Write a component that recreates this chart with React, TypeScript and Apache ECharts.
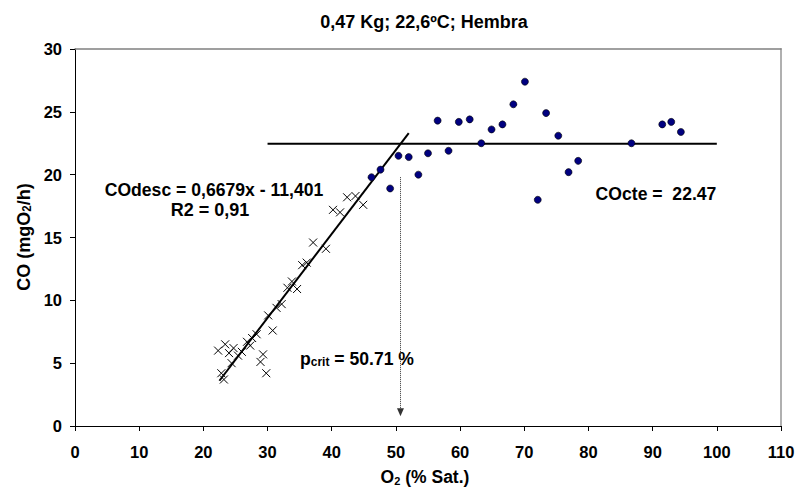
import React, { useEffect, useRef } from "react";
import * as echarts from "echarts";

// Descending phase (crosses): [O2 % sat, CO mgO2/h]
const descPoints: number[][] = [
  [22.3, 6.0], [23.4, 6.5], [24.0, 5.8], [24.7, 6.2], [22.8, 4.2], [23.2, 3.7],
  [24.4, 5.0], [25.4, 5.6], [26.0, 5.9], [26.8, 6.7], [27.3, 6.4], [27.6, 7.0],
  [28.3, 7.3], [28.9, 5.1], [29.3, 5.7], [29.8, 4.2], [30.1, 8.8], [30.8, 7.6],
  [31.4, 9.4], [32.2, 9.7], [33.1, 11.0], [33.8, 11.5], [34.6, 10.9], [35.4, 12.8],
  [36.1, 13.0], [37.1, 14.6], [39.1, 14.1], [40.2, 17.2], [41.3, 17.0], [42.4, 18.2],
  [43.7, 18.3], [44.9, 17.6],
];

// Constant phase (dots)
const ctePoints: number[][] = [
  [46.2, 19.8], [47.6, 20.4], [49.1, 18.9], [50.4, 21.5], [52.0, 21.4], [53.5, 20.0],
  [55.0, 21.7], [56.5, 24.3], [58.2, 21.9], [59.8, 24.2], [61.5, 24.4], [63.3, 22.5],
  [64.9, 23.6], [66.6, 24.0], [68.3, 25.6], [70.1, 27.4], [72.1, 18.0], [73.4, 24.9],
  [75.3, 23.1], [76.9, 20.2], [78.4, 21.1], [86.7, 22.5], [91.5, 24.0], [92.9, 24.2],
  [94.4, 23.4],
];

// Trend line end points
const descLine: number[][] = [[22.5, 3.6], [52.0, 23.3]];
const cteLine: number[][] = [[30, 22.47], [100, 22.47]];

// Critical pressure marker
const pcrit = 50.71;
const pcritTop = 19.8;
const pcritBottom = 1.1;

const xTicks = { min: 0, max: 110, interval: 10 };
const yTicks = { min: 0, max: 30, interval: 5 };

const titleText = "0,47 Kg; 22,6ºC; Hembra";
const descEq = "COdesc = 0,6679x - 11,401";
const descR2 = "R2 = 0,91";
const cteText = "COcte =  22.47";

const FONT = "'Liberation Sans', Arial, Helvetica, sans-serif";

export default function App() {
  const ref = useRef<HTMLDivElement>(null);
  useEffect(() => {
    document.body.style.margin = "0";
    const chart = echarts.init(ref.current!, null, { renderer: "svg" });
    const bold = { fontFamily: FONT, fontWeight: "bold" as const, color: "#000" };
    const subRich = (size: number, pad: number) => ({
      sub: { fontFamily: FONT, fontWeight: "bold", fontSize: size, verticalAlign: "bottom", lineHeight: 14, padding: [pad, 0, 0, 0] },
    });
    chart.setOption({
      animation: false,
      grid: { left: 75, right: 19, top: 49, bottom: 67, containLabel: false },
      xAxis: [
        {
          type: "value",
          ...xTicks,
          position: "bottom",
          axisLine: { show: true, onZero: false, lineStyle: { color: "#000", width: 1 } },
          axisTick: { show: true, inside: false, length: 5, lineStyle: { color: "#000" } },
          axisLabel: { ...bold, fontSize: 16.5, margin: 17 },
          splitLine: { show: false },
        },
        {
          type: "value",
          ...xTicks,
          position: "top",
          axisLine: { show: true, onZero: false, lineStyle: { color: "#808080", width: 1.5 } },
          axisTick: { show: false },
          axisLabel: { show: false },
          splitLine: { show: false },
        },
      ],
      yAxis: [
        {
          type: "value",
          ...yTicks,
          position: "left",
          axisLine: { show: true, onZero: false, lineStyle: { color: "#000", width: 1 } },
          axisTick: { show: true, inside: false, length: 5, lineStyle: { color: "#000" } },
          axisLabel: { ...bold, fontSize: 16.5, margin: 13 },
          splitLine: { show: false },
        },
        {
          type: "value",
          ...yTicks,
          position: "right",
          axisLine: { show: true, onZero: false, lineStyle: { color: "#b0b0b0", width: 2 } },
          axisTick: { show: false },
          axisLabel: { show: false },
          splitLine: { show: false },
        },
      ],
      series: [
        {
          type: "line",
          data: descLine,
          symbol: "none",
          lineStyle: { color: "#000", width: 2 },
          silent: true,
          z: 3,
        },
        {
          type: "line",
          data: cteLine,
          symbol: "none",
          lineStyle: { color: "#000", width: 2 },
          silent: true,
          z: 3,
          markLine: {
            silent: true,
            symbol: ["none", "triangle"],
            symbolSize: [7, 8],
            label: { show: false },
            lineStyle: { type: "dotted", color: "#333", width: 1 },
            data: [[{ coord: [pcrit, pcritTop] }, { coord: [pcrit, pcritBottom] }]],
          },
        },
        {
          type: "scatter",
          data: descPoints,
          symbol: "path://M0,0L10,10M10,0L0,10",
          symbolSize: 8,
          itemStyle: { color: "none", borderColor: "#000", borderWidth: 1, opacity: 1 },
          z: 4,
        },
        {
          type: "scatter",
          data: ctePoints,
          symbol: "circle",
          symbolSize: 7,
          itemStyle: { color: "#000080", borderColor: "#000", borderWidth: 0.6, opacity: 1 },
          z: 5,
        },
      ],
      graphic: [
        {
          type: "text",
          x: 424,
          y: 22,
          style: { text: titleText, ...bold, fill: "#000", fontSize: 18, align: "center", verticalAlign: "middle" },
        },
        {
          type: "text",
          x: 425,
          y: 477,
          scaleY: 1.05,
          style: {
            text: "O{sub|2} (% Sat.)",
            fill: "#000",
            fontFamily: FONT,
            fontWeight: "bold",
            fontSize: 17.5,
            align: "center",
            verticalAlign: "middle",
            rich: subRich(11, 6),
          },
        },
        {
          type: "text",
          x: 23,
          y: 237,
          rotation: Math.PI / 2,
          scaleY: 1.05,
          style: {
            text: "CO (mgO{sub|2}/h)",
            fill: "#000",
            fontFamily: FONT,
            fontWeight: "bold",
            fontSize: 18,
            align: "center",
            verticalAlign: "middle",
            rich: subRich(11.5, 6),
          },
        },
        {
          type: "text",
          x: 214,
          y: 190,
          scaleY: 1.07,
          style: { text: descEq, ...bold, fill: "#000", fontSize: 17.6, align: "center", verticalAlign: "middle" },
        },
        {
          type: "text",
          x: 210,
          y: 209,
          scaleY: 1.07,
          style: { text: descR2, ...bold, fill: "#000", fontSize: 18, align: "center", verticalAlign: "middle" },
        },
        {
          type: "text",
          x: 656,
          y: 194,
          scaleY: 1.07,
          style: { text: cteText, ...bold, fill: "#000", fontSize: 17.6, align: "center", verticalAlign: "middle" },
        },
        {
          type: "text",
          x: 300,
          y: 359,
          scaleY: 1.07,
          style: {
            text: "p{sub|crit} = " + pcrit.toFixed(2) + " %",
            fill: "#000",
            fontFamily: FONT,
            fontWeight: "bold",
            fontSize: 17.6,
            align: "left",
            verticalAlign: "middle",
            rich: subRich(12, 7),
          },
        },
      ],
    });
    return () => chart.dispose();
  }, []);
  return (
    <div
      ref={ref}
      style={{ position: "absolute", left: 0, top: 0, width: 800, height: 493, background: "#fff" }}
    />
  );
}
